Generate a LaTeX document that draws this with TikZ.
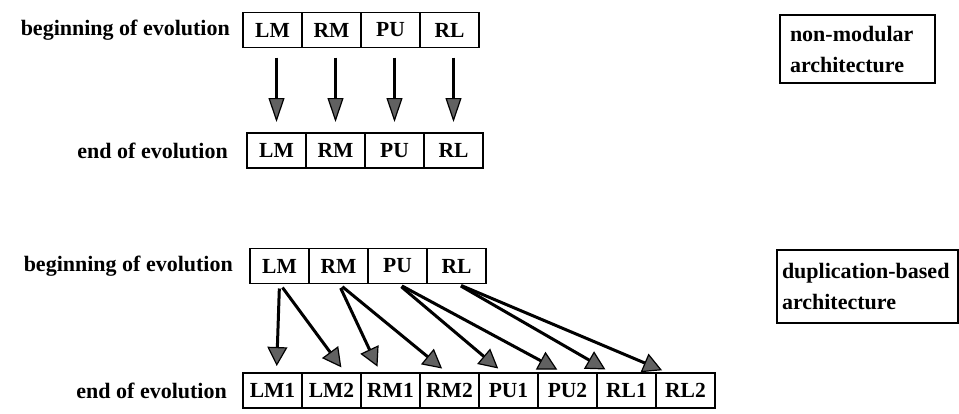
\documentclass[tikz,border=0pt]{standalone}
\usepackage{fontspec}
\setmainfont{Liberation Serif}
\usetikzlibrary{positioning,arrows.meta}
\tikzset{modbox/.style={draw, line width=1.6pt, minimum width=59pt, minimum height=35pt,
        inner sep=0pt, outer sep=0pt, font=\fontsize{21.5}{25}\selectfont\bfseries},
    evolabel/.style={inner sep=0pt, font=\fontsize{22}{26}\selectfont\bfseries},
    archbox/.style={draw, line width=1.8pt, align=left, font=\fontsize{22}{31}\selectfont\bfseries},
    evoarrow/.style={line width=3pt, -{Triangle[length=24pt,width=16pt,fill=black!62,line width=1.2pt]}},
    duparrow/.style={line width=3pt, -{Triangle[length=19pt,width=20pt,fill=black!62,line width=1.2pt]}},
    }

\begin{document}
\begin{tikzpicture}[x=1pt,y=-1pt]
	\useasboundingbox (0,0) rectangle (959,413);
	% non-modular
	\node[modbox] (nmBegLM) at (272.5,30) {LM};
	\node[modbox, right=0pt of nmBegLM] (nmBegRM) {RM};
	\node[modbox, right=0pt of nmBegRM] (nmBegPU) {PU};
	\node[modbox, right=0pt of nmBegPU] (nmBegRL) {RL};
	\node[evolabel, left=13pt of nmBegLM] (nmBegLabel) {beginning of evolution};
	\node[modbox] (nmEndLM) at (276.5,150.5) {LM};
	\node[modbox, right=0pt of nmEndLM] (nmEndRM) {RM};
	\node[modbox, right=0pt of nmEndRM] (nmEndPU) {PU};
	\node[modbox, right=0pt of nmEndPU] (nmEndRL) {RL};
	\node[evolabel, left=19pt of nmEndLM] (nmEndLabel) {end of evolution};
	\node[archbox, text width=135pt, inner xsep=10pt, minimum height=68pt] (nmArch)
		at (857.5,49) {non-modular\\architecture};
	\draw[evoarrow, shorten <=10pt, shorten >=11pt] (nmEndLM.north |- nmBegLM.south) -- (nmEndLM.north);
	\draw[evoarrow, shorten <=10pt, shorten >=11pt] (nmEndRM.north |- nmBegRM.south) -- (nmEndRM.north);
	\draw[evoarrow, shorten <=10pt, shorten >=11pt] (nmEndPU.north |- nmBegPU.south) -- (nmEndPU.north);
	\draw[evoarrow, shorten <=10pt, shorten >=11pt] (nmEndRL.north |- nmBegRL.south) -- (nmEndRL.north);
	% duplication-based
	\node[modbox] (dupBegLM) at (279.5,266) {LM};
	\node[modbox, right=0pt of dupBegLM] (dupBegRM) {RM};
	\node[modbox, right=0pt of dupBegRM] (dupBegPU) {PU};
	\node[modbox, right=0pt of dupBegPU] (dupBegRL) {RL};
	\node[evolabel, left=17pt of dupBegLM] (dupBegLabel) {beginning of evolution};
	\node[modbox] (dupEndLM1) at (272.5,390.5) {LM1};
	\node[modbox, right=0pt of dupEndLM1] (dupEndLM2) {LM2};
	\node[modbox, right=0pt of dupEndLM2] (dupEndRM1) {RM1};
	\node[modbox, right=0pt of dupEndRM1] (dupEndRM2) {RM2};
	\node[modbox, right=0pt of dupEndRM2] (dupEndPU1) {PU1};
	\node[modbox, right=0pt of dupEndPU1] (dupEndPU2) {PU2};
	\node[modbox, right=0pt of dupEndPU2] (dupEndRL1) {RL1};
	\node[modbox, right=0pt of dupEndRL1] (dupEndRL2) {RL2};
	\node[evolabel, left=16pt of dupEndLM1] (dupEndLabel) {end of evolution};
	\node[archbox, text width=171pt, inner xsep=5pt, minimum height=73pt] (dupArch)
		at (867.5,286.5) {duplication-based\\architecture};
	\draw[duparrow, shorten <=5pt, shorten >=7pt] (dupBegLM.south) -- ([xshift=4pt]dupEndLM1.north);
	\draw[duparrow, shorten <=5pt, shorten >=7pt] (dupBegLM.south) -- ([xshift=14pt]dupEndLM2.north);
	\draw[duparrow, shorten <=5pt, shorten >=7pt] (dupBegRM.south) -- ([xshift=-10pt]dupEndRM1.north);
	\draw[duparrow, shorten <=5pt, shorten >=7pt] (dupBegRM.south) -- ([xshift=-2pt]dupEndRM2.north);
	\draw[duparrow, shorten <=5pt, shorten >=7pt] (dupBegPU.south) -- ([xshift=-5pt]dupEndPU1.north);
	\draw[duparrow, shorten <=5pt, shorten >=7pt] (dupBegPU.south) -- ([xshift=-4pt]dupEndPU2.north);
	\draw[duparrow, shorten <=5pt, shorten >=7pt] (dupBegRL.south) -- ([xshift=-15pt]dupEndRL1.north);
	\draw[duparrow, shorten <=5pt, shorten >=7pt] (dupBegRL.south) -- ([xshift=-17pt]dupEndRL2.north);
	%\draw[duparrow] (dupBegRL.south) -- (dupEndRL2.north);
\end{tikzpicture}
\end{document}
